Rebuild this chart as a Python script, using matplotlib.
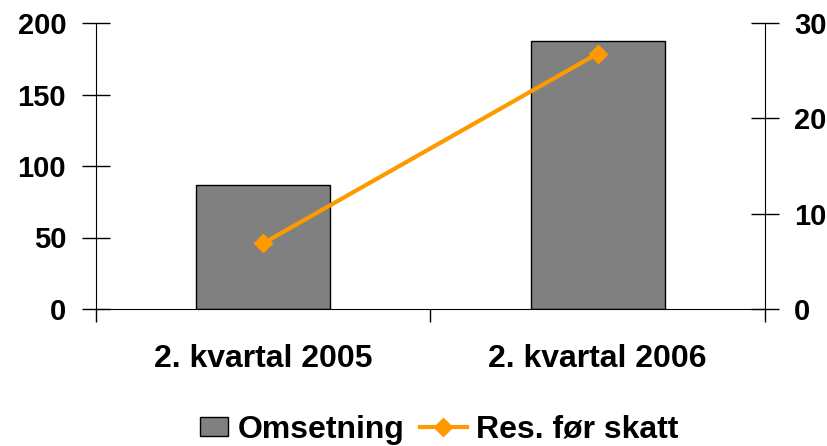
import matplotlib
matplotlib.use("Agg")
import matplotlib.pyplot as plt
from matplotlib.ticker import FixedLocator
from matplotlib.patches import Rectangle
from matplotlib.legend_handler import HandlerPatch

categories = ["2. kvartal 2005", "2. kvartal 2006"]
omsetning = [87, 187.5]
res_for_skatt = [6.9, 26.8]
left_ticks = [0, 50, 100, 150, 200]
right_ticks = [0, 10, 20, 30]

plt.rcParams['font.family'] = ['Liberation Sans', 'DejaVu Sans']
plt.rcParams['font.weight'] = 'bold'


class NarrowPatch(HandlerPatch):
    def create_artists(self, legend, orig_handle, xdescent, ydescent, width, height, fontsize, trans):
        w = width * 0.6
        h = height * 0.85
        p = Rectangle((-xdescent + width - w, -ydescent + (height - h) / 2), w, h,
                      facecolor=orig_handle.get_facecolor(), edgecolor='black', linewidth=1)
        p.set_transform(trans)
        return [p]


fig = plt.figure(figsize=(8.28, 4.46), dpi=100)
ax = fig.add_axes([96/828, 1-309/446, (765-96)/828, (309-23)/446])
x = list(range(len(categories)))
bars = ax.bar(x, omsetning, width=0.4, color='#808080', edgecolor='black', linewidth=1, label='Omsetning', zorder=2)
ax.set_xlim(-0.5, len(categories)-0.5)
ax.set_ylim(0, 200)
ax.set_yticks(left_ticks)
ax.set_xticks(x)
ax.set_xticklabels(categories, fontsize=23, fontweight='bold')
ax.tick_params(axis='x', which='major', length=0, pad=25)
ax.xaxis.set_minor_locator(FixedLocator([-0.5, 0.5, 1.5]))
ax.tick_params(axis='x', which='minor', length=9, direction='out', width=1)
ax.tick_params(axis='y', direction='inout', length=20, width=1, labelsize=21, pad=11.5)
for lbl in ax.get_yticklabels():
    lbl.set_fontweight('bold')
for s in ['top', 'right']:
    ax.spines[s].set_visible(False)

ax2 = ax.twinx()
line, = ax2.plot(x, res_for_skatt, color='#FF9900', linewidth=3, marker='D', markersize=9, label='Res. før skatt', zorder=3)
ax2.set_ylim(0, 30)
ax2.set_yticks(right_ticks)
ax2.tick_params(axis='y', direction='inout', length=20, width=1, labelsize=21, pad=11)
for lbl in ax2.get_yticklabels():
    lbl.set_fontweight('bold')
for s in ['top', 'left', 'bottom']:
    ax2.spines[s].set_visible(False)

fig.legend([bars[0], line], ['Omsetning', 'Res. før skatt'], loc='center', bbox_to_anchor=(430/828, 1-430/446),
           ncol=2, frameon=False, prop={'size': 23, 'weight': 'bold'}, handlelength=1.45,
           columnspacing=0.5, handletextpad=0.3, handler_map={Rectangle: NarrowPatch()})

fig.savefig('out.png', dpi=100)
